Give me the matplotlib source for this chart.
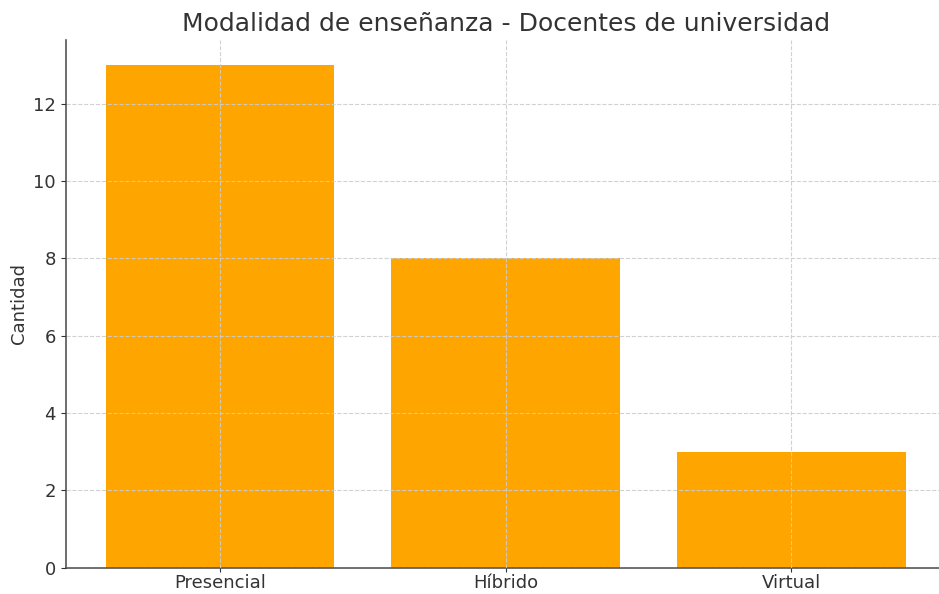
import matplotlib
matplotlib.use('Agg')
import matplotlib.pyplot as plt

categorias = ['Presencial', 'Híbrido', 'Virtual']
cantidad = [13, 8, 3]

fig = plt.figure(figsize=(9.39, 5.94), dpi=100)
ax = fig.add_axes([0.070, 0.044, 0.937, 0.889])

ax.bar(categorias, cantidad, width=0.8, color='#FFA500')
ax.set_axisbelow(False)
ax.grid(True, linestyle='--', color='#cccccc', linewidth=0.8, alpha=0.9)

for side in ['top', 'right']:
    ax.spines[side].set_visible(False)
for side in ['left', 'bottom']:
    ax.spines[side].set_color('#555555')
    ax.spines[side].set_linewidth(1.2)

ax.tick_params(colors='#333333', labelsize=13)
ax.tick_params(axis='x', pad=1.5, length=3)
ax.set_ylabel('Cantidad', fontsize=13, color='#333333')
ax.set_title('Modalidad de enseñanza - Docentes de universidad', fontsize=18, color='#333333')

fig.savefig('out.png', dpi=100)
